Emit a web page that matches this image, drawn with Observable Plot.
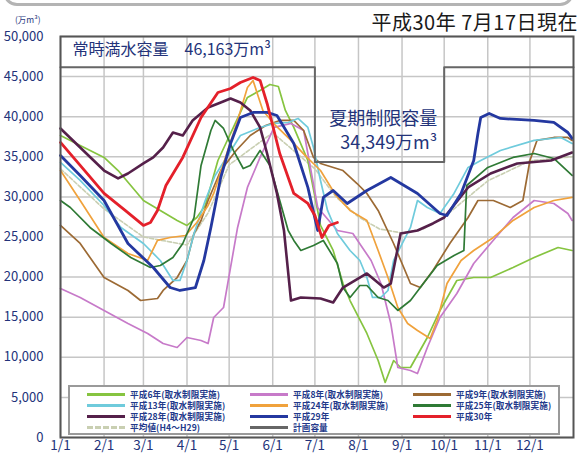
<!DOCTYPE html>
<html><head><meta charset="utf-8">
<script src="https://cdn.jsdelivr.net/npm/d3@7"></script>
<script src="https://cdn.jsdelivr.net/npm/@observablehq/plot@0.6"></script>
<style>
html,body{margin:0;padding:0;background:#fff;}
#wrap{position:relative;width:577px;height:457px;overflow:hidden;font-family:"Noto Sans CJK JP",sans-serif;}
#topbox{position:absolute;left:3px;right:3px;top:-34px;height:34px;border:3px solid #b4b4b4;border-radius:14px;}
#title{position:absolute;right:-1px;top:9px;font-size:20px;line-height:26px;color:#1a1a1a;white-space:nowrap;letter-spacing:0.5px;}
#unit{position:absolute;left:15px;top:14px;font-size:8.5px;line-height:10px;color:#2a3a80;}
#legend{position:absolute;left:68px;top:385px;width:488px;height:46px;border:2px solid #9a9a9a;background:#fff;}
.item{position:absolute;height:11px;line-height:11px;font-size:8.6px;color:#23398a;white-space:nowrap;font-weight:bold;letter-spacing:0.1px;}
.sw{display:inline-block;width:38px;height:0;vertical-align:middle;margin-right:5px;margin-top:-2px;}
</style></head>
<body>
<div id="wrap">
  <div id="topbox"></div>
  <div id="title">平成30年 7月17日現在</div>
  <div id="unit">(万m³)</div>
  <div id="chart"></div>
  <div id="legend"></div>
</div>
<script>
// ---- data: [day of year (0 = 1/1), storage 万m³] ----
const h6 = [[0,37660],[14,36410],[31,34920],[41,33290],[59,29550],[71,28310],[83,27060],[90,26440],[97,27430],[103,28930],[112,34540],[123,38660],[133,42400],[142,43270],[149,44020],[155,43770],[160,40780],[166,38660],[176,34540],[185,26440],[194,23320],[201,19200],[206,17080],[218,12970],[226,9600],[231,6860],[237,9600],[242,8730],[249,8730],[261,12470],[270,15840],[282,19580],[294,19950],[306,19950],[322,21200],[337,22450],[354,23690],[364,23320]];
const h8 = [[0,18580],[14,17460],[31,15840],[48,14220],[62,12970],[73,11720],[83,11220],[90,12470],[100,12100],[105,11720],[109,14960],[116,16210],[121,21200],[126,26190],[133,31180],[142,34920],[152,38660],[164,39160],[173,38280],[183,28680],[197,25810],[208,25440],[221,22070],[228,19200],[235,14220],[240,8730],[249,8350],[254,7980],[261,11220],[270,14960],[282,17960],[294,21700],[306,24190],[322,27430],[337,29550],[351,29180],[361,27930],[364,27060]];
const h9 = [[0,26440],[14,24190],[31,19950],[48,18330],[57,17080],[69,17330],[73,18330],[83,19950],[90,22070],[95,25440],[100,27060],[105,29550],[114,33290],[125,35790],[135,37660],[146,38910],[156,39530],[166,39530],[173,38280],[180,34920],[185,34170],[201,33290],[211,31670],[218,30430],[226,28310],[237,24190],[249,19200],[256,18700],[265,20820],[277,24190],[290,27430],[297,29550],[308,29550],[320,28680],[329,29550],[334,34540],[339,37040],[351,37410],[361,37410],[364,37040]];
const h13 = [[0,34290],[14,32050],[31,28930],[43,26190],[59,24190],[71,22070],[80,19580],[85,19580],[90,22070],[95,25440],[103,29550],[110,32670],[119,35170],[128,37660],[142,38660],[152,39160],[162,39280],[169,39780],[176,38660],[180,36160],[185,32050],[190,28310],[197,25440],[206,23320],[213,22070],[218,19950],[222,17460],[228,17460],[233,18330],[237,22070],[249,26190],[254,29550],[261,28680],[270,27930],[280,30430],[290,33670],[299,34540],[313,35790],[337,37040],[356,37410],[364,36660]];
const h24 = [[0,33290],[14,29550],[31,24940],[48,22950],[62,22070],[69,24570],[78,24940],[89,25190],[97,26810],[105,28930],[109,30430],[119,35790],[126,39530],[133,43640],[137,44520],[140,42900],[144,40780],[153,38910],[164,37040],[174,35170],[185,33290],[196,30180],[206,28310],[218,27060],[226,23320],[233,19950],[240,16210],[247,14220],[254,13340],[263,12350],[268,14590],[275,19200],[285,22070],[294,23320],[308,24940],[322,27060],[337,28680],[351,29550],[364,29930]];
const h25 = [[0,29550],[7,28680],[21,26190],[36,24190],[50,22450],[64,21200],[71,21450],[80,22450],[87,24190],[95,27430],[100,33920],[107,38280],[110,39530],[116,38530],[123,35790],[130,33540],[135,33920],[142,35790],[149,33920],[156,29550],[162,25810],[166,24570],[171,23320],[180,23940],[187,24570],[197,21700],[201,18700],[206,17460],[213,18950],[218,18950],[226,17460],[233,17080],[240,15840],[249,17080],[256,18700],[268,21450],[280,22700],[287,23320],[289,31420],[304,33670],[322,34920],[337,35410],[351,34790],[364,32670]];
const h28 = [[0,38530],[14,36160],[31,33290],[41,32300],[48,32920],[59,34170],[66,34920],[73,36160],[80,38030],[87,37660],[94,39530],[105,41150],[114,41770],[121,42270],[128,41770],[135,40780],[142,38660],[147,35410],[154,30430],[159,25810],[164,17080],[171,17460],[185,17330],[194,16830],[201,18700],[218,20450],[230,18700],[235,19200],[242,25440],[254,25810],[265,26690],[273,27430],[290,31180],[306,32920],[325,34170],[349,34540],[364,35540]];
const h29 = [[0,35170],[14,32670],[31,29550],[48,24190],[66,21200],[78,18700],[85,18330],[96,18700],[102,22070],[107,26190],[114,32420],[121,36660],[128,39900],[137,40530],[147,40530],[154,40150],[166,36660],[176,31180],[183,25810],[187,29930],[194,30800],[204,29180],[218,30800],[235,32420],[254,30430],[270,27930],[275,27680],[285,30430],[294,34540],[297,37910],[299,39900],[305,40400],[313,39780],[337,39530],[351,39280],[361,38030],[364,37290]];
const h30 = [[0,36790],[14,33920],[31,30430],[46,28310],[59,26440],[64,26810],[69,28310],[75,31420],[87,34920],[100,39900],[112,43020],[121,43520],[128,44270],[137,44890],[142,44520],[147,41650],[156,35410],[166,30430],[176,29180],[181,27680],[186,24940],[191,26440],[197,26810]];
const avg = [[0,33500],[31,28500],[59,25000],[90,24000],[105,28000],[120,34000],[151,38000],[181,33500],[196,30000],[212,27500],[227,26000],[243,25500],[258,26000],[273,27500],[304,32000],[334,34500],[364,35000]];
const plan = [[0,46163],[181,34349],[273,46163],[365,46163]];
const yTicks = [0,5000,10000,15000,20000,25000,30000,35000,40000,45000,50000];
const monthLabels = ["1/1","2/1","3/1","4/1","5/1","6/1","7/1","8/1","9/1","10/1","11/1","12/1"];
const seriesNames = ["平成6年(取水制限実施)","平成8年(取水制限実施)","平成9年(取水制限実施)","平成13年(取水制限実施)","平成24年(取水制限実施)","平成25年(取水制限実施)","平成28年(取水制限実施)","平成29年","平成30年","平均値(H4～H29)","計画容量"];
const fullLabel = "常時満水容量\u300046,163万m³";
const summerLabel1 = "夏期制限容量";
const summerLabel2 = "34,349万m³";

// ---- build ----
const base = Date.UTC(2001,0,1);
const toDate = d => new Date(base + d*864e5);
const rows = arr => arr.map(([d,v]) => ({date: toDate(d), value: v}));
const navy = "#23337a";
const styles = [
  {data:h6,  color:"#86c440", w:1.7},
  {data:h8,  color:"#c77ac9", w:1.7},
  {data:h9,  color:"#9c6a34", w:1.7},
  {data:h13, color:"#6fcbdc", w:1.7},
  {data:h24, color:"#f0a23c", w:1.7},
  {data:h25, color:"#2f7a35", w:1.7},
  {data:h28, color:"#55204a", w:2.6},
  {data:h29, color:"#2438a0", w:2.8},
  {data:h30, color:"#e4202a", w:2.8}
];
const avgColor = "#c9cfb2", planColor = "#666";
const months = d3.range(12).map(m => new Date(Date.UTC(2001,m,1)));

const lineMarks = [
  Plot.line(rows(avg), {x:"date", y:"value", stroke:avgColor, strokeWidth:1.6, strokeDasharray:"4,2"}),
  ...styles.map(s => Plot.line(rows(s.data), {x:"date", y:"value", stroke:s.color, strokeWidth:s.w, strokeLinejoin:"round"}))
];

const chart = Plot.plot({
  width: 577, height: 457,
  marginLeft: 60, marginRight: 4, marginTop: 36, marginBottom: 20,
  style: {fontFamily: "'Noto Sans CJK JP', sans-serif", background: "transparent", overflow: "visible"},
  x: {type: "utc", domain: [new Date(base), new Date(Date.UTC(2002,0,1))]},
  y: {domain: [0, 50000]},
  marks: [
    Plot.gridX(months, {stroke:"#c6c6c6", strokeOpacity:1, strokeWidth:1.5}),
    Plot.gridY(yTicks, {stroke:"#c6c6c6", strokeOpacity:1, strokeWidth:1.5}),
    Plot.axisX(months, {tickFormat: (d,i) => monthLabels[d.getUTCMonth()], tickSize:0, tickPadding:3, fontSize:13.5, fill:navy, label:null}),
    Plot.axisY(yTicks, {tickFormat: d3.format(","), tickSize:0, tickPadding:17, fontSize:13, fill:navy, label:null}),
    ...lineMarks,
    Plot.line(rows(plan), {x:"date", y:"value", stroke:planColor, strokeWidth:2, curve:"step-after"}),
    Plot.frame({stroke:"#555", strokeWidth:2}),
    Plot.text([{t: fullLabel, date: toDate(plan[0][0]), value: plan[0][1]}], {x:"date", y:"value", text:"t", textAnchor:"start", dx:12, dy:-17, fontSize:16, fill:navy}),
    Plot.text([{t: summerLabel1, date: toDate(plan[2][0]), value: plan[1][1]}], {x:"date", y:"value", text:"t", textAnchor:"end", dx:-7, dy:-43, fontSize:18, fill:navy}),
    Plot.text([{t: summerLabel2, date: toDate(plan[2][0]), value: plan[1][1]}], {x:"date", y:"value", text:"t", textAnchor:"end", dx:-7, dy:-19, fontSize:18, fill:navy})
  ]
});
document.getElementById("chart").appendChild(chart);

// legend
const legendColors = [...styles.map(s => s.color), avgColor, planColor];
const lg = document.getElementById("legend");
seriesNames.forEach((name, i) => {
  const col = i % 3, row = Math.floor(i / 3);
  const it = document.createElement("div");
  it.className = "item";
  it.style.left = (17 + col*163) + "px";
  it.style.top = (2 + row*11) + "px";
  const sw = document.createElement("span");
  sw.className = "sw";
  sw.style.borderTop = `3px ${i === 9 ? "dashed" : "solid"} ${legendColors[i]}`;
  it.appendChild(sw);
  const tx = document.createElement("span");
  tx.textContent = name;
  it.appendChild(tx);
  lg.appendChild(it);
});
</script>
</body></html>
